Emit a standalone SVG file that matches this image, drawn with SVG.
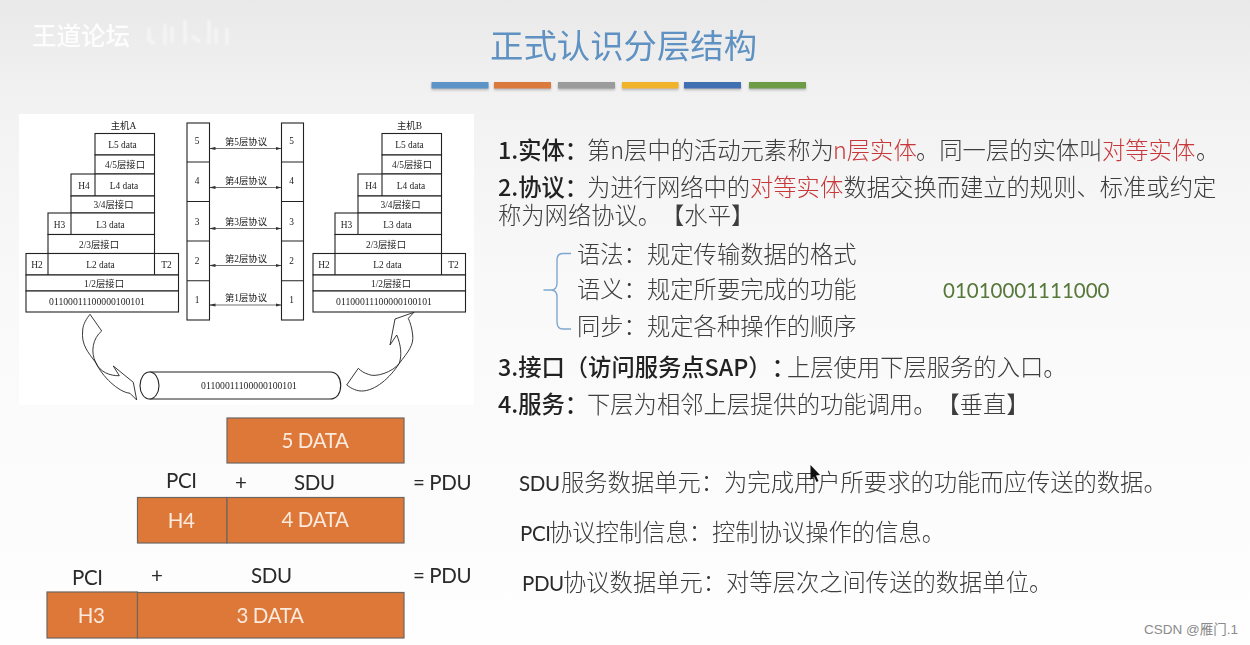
<svg xmlns="http://www.w3.org/2000/svg" width="1250" height="645" viewBox="0 0 1250 645">
<style>
.cn{font-family:"Noto Sans CJK SC","Liberation Sans",sans-serif;font-size:23.3px;fill:#3c3c3c;font-weight:300;text-spacing-trim:space-all}
.b{font-weight:500;fill:#222}
.r{fill:#c8383a}
.lat{font-family:"Lato","Noto Sans CJK SC",sans-serif;font-size:20.5px;letter-spacing:-.4px;fill:#2a2a2a}
.wh{font-family:"Lato",sans-serif;font-size:20.5px;letter-spacing:-.4px;fill:#fbeadd;text-anchor:middle}
.org{fill:#dd7837;stroke:#6f6660;stroke-width:1.2}
.s{font-family:"Liberation Serif","Noto Sans CJK SC",serif;font-size:9.4px;fill:#222;text-anchor:middle}
.bx{fill:#fff;stroke:#222;stroke-width:1.1}
.pn{stroke:#333;stroke-width:.7;fill:none;marker-start:url(#ah);marker-end:url(#ah)}
.ar{fill:#fff;stroke:#222;stroke-width:.9;stroke-linejoin:miter}
</style>
<defs>
<linearGradient id="bg" x1="0" y1="0" x2="0" y2="1"><stop offset="0" stop-color="#e9e9e9"/><stop offset=".16" stop-color="#f2f2f2"/><stop offset=".45" stop-color="#f9f9f9"/><stop offset="1" stop-color="#fefefe"/></linearGradient>
<filter id="soft" x="-5%" y="-5%" width="110%" height="110%"><feGaussianBlur stdDeviation=".45"/></filter>
<filter id="soft2" x="-5%" y="-20%" width="110%" height="140%"><feGaussianBlur stdDeviation=".3"/></filter>
<filter id="soft3" x="-5%" y="-20%" width="110%" height="140%"><feGaussianBlur stdDeviation=".8"/></filter>
<filter id="sh" x="-5%" y="-30%" width="110%" height="200%"><feDropShadow dx="0" dy="1.5" stdDeviation="1" flood-color="#888" flood-opacity=".6"/></filter>
<marker id="ah" markerWidth="6" markerHeight="4" refX="5.5" refY="2" orient="auto-start-reverse" markerUnits="userSpaceOnUse"><path d="M0 0.4L6 2L0 3.6z" fill="#333"/></marker>
<g id="host">
<rect class="bx" x="95" y="133.5" width="59.5" height="21.5"/>
<rect class="bx" x="95" y="155" width="59.5" height="19"/>
<rect class="bx" x="71" y="174" width="83.5" height="22"/>
<path class="bx" d="M95 174V196"/>
<rect class="bx" x="71" y="196" width="83.5" height="17"/>
<rect class="bx" x="48" y="213" width="106.5" height="21.5"/>
<path class="bx" d="M71 213V234.5"/>
<rect class="bx" x="48" y="234.5" width="106.5" height="19"/>
<rect class="bx" x="26" y="253.5" width="152.5" height="21.5"/>
<path class="bx" d="M48 253.5V275M154.5 253.5V275"/>
<rect class="bx" x="26" y="275" width="152.5" height="16"/>
<rect class="bx" x="26" y="291" width="152.5" height="21"/>
<text class="s" x="122.500" y="148">L5 data</text>
<text class="s" x="125" y="168">4/5层接口</text>
<text class="s" x="84" y="189">H4</text>
<text class="s" x="124" y="188.500">L4 data</text>
<text class="s" x="113.500" y="208">3/4层接口</text>
<text class="s" x="59.500" y="227.500">H3</text>
<text class="s" x="110.500" y="227.500">L3 data</text>
<text class="s" x="99" y="247.500">2/3层接口</text>
<text class="s" x="37" y="267.500">H2</text>
<text class="s" x="100.500" y="267.500">L2 data</text>
<text class="s" x="166.500" y="267.500">T2</text>
<text class="s" x="104" y="286.500">1/2层接口</text>
<text class="s" x="97" y="304.500" style="font-size:9.7px">01100011100000100101</text>
</g>
</defs>
<rect id="background" width="1250" height="645" fill="url(#bg)"/>
<g id="watermark">
<text x="32" y="45" filter="url(#soft2)" style="font-family:'Noto Sans CJK SC',sans-serif;font-size:24.500px;font-weight:500;fill:#fff;opacity:.9">王道论坛</text>
<path d="M149 27V40L155 44M165 24V45M172 26V43M185 20V44M192 36L200 42M209 20V44M216 28V44M227 28V45" fill="none" stroke="#fff" stroke-width="3" opacity=".5" filter="url(#soft3)"/>
</g>
<text id="title" x="490" y="58" filter="url(#soft2)" style="font-family:'Noto Sans CJK SC',sans-serif;font-size:33.400px;font-weight:400;fill:#5f92c2">正式认识分层结构</text>
<g id="title-bars" filter="url(#sh)">
<rect x="431.500" y="82" width="57" height="6.500" fill="#5b94c8"/>
<rect x="494" y="82" width="57" height="6.500" fill="#dc7a3c"/>
<rect x="558" y="82" width="57" height="6.500" fill="#9b9b9b"/>
<rect x="622" y="82" width="56.500" height="6.500" fill="#f0b32c"/>
<rect x="684" y="82" width="57" height="6.500" fill="#3f6fb2"/>
<rect x="749" y="82" width="57" height="6.500" fill="#6d9c45"/>
</g>
<g id="protocol-figure" filter="url(#soft)">
<rect x="19" y="114" width="455" height="291" fill="#fff"/>
<g id="host-a"><text class="s" x="123.500" y="129">主机A</text><use href="#host"/></g>
<g id="host-b"><text class="s" x="409.500" y="129">主机B</text><use href="#host" x="287"/></g>
<g id="stack-left">
<rect class="bx" x="187" y="123" width="22.500" height="197"/>
<path class="bx" d="M187 162H209.500M187 201.500H209.500M187 241H209.500M187 280.700H209.500"/>
<text class="s" x="197" y="144">5</text><text class="s" x="197" y="184">4</text><text class="s" x="197" y="224.500">3</text><text class="s" x="197" y="264">2</text><text class="s" x="197" y="303">1</text>
</g>
<g id="stack-right">
<rect class="bx" x="281.500" y="123" width="22" height="197"/>
<path class="bx" d="M281.500 162H303.500M281.500 201.500H303.500M281.500 241H303.500M281.500 280.700H303.500"/>
<text class="s" x="291.500" y="144">5</text><text class="s" x="291.500" y="184">4</text><text class="s" x="291.500" y="224.500">3</text><text class="s" x="291.500" y="264">2</text><text class="s" x="291.500" y="303">1</text>
</g>
<g id="connectors">
<path class="pn" d="M210 148.500H281"/><path class="pn" d="M210 187.500H281"/><path class="pn" d="M210 228.500H281"/><path class="pn" d="M210 265.500H281"/><path class="pn" d="M210 305H281"/>
<path class="ar" d="M90 314.300L101.700 331C93 338 90 352 96 363C102 376 118 392 130 393.300L136.700 400L133.300 382.300L113.300 366L119.300 375.700C110 376 100 372 96 363C88 352 81 345 82.700 330C83 324 87 318 90 314.300Z"/>
<path class="ar" d="M414 312.300L395 319L390 345L396.700 335C401 345 402 355 399.300 363.300C393 372 375 378 368.300 374.300C364 373 361 371 358.300 368.300L346.700 385C352 389 357 391 361.700 391C375 391 390 378 399.300 363.300C408 352 414 345 412.700 335C412 328 410 322 408.300 318.300Z"/>
</g>
<g id="pipe">
<path d="M149.500 372H330C337 372 340.700 378 340.700 385.500C340.700 393 337 399 330 399H149.500" class="bx"/>
<ellipse class="bx" cx="149.500" cy="385.500" rx="9.500" ry="13.500"/>
<text class="s" x="249" y="389" style="font-size:9.700px">01100011100000100101</text>
</g>
<text class="s" x="246" y="145">第5层协议</text>
<text class="s" x="246" y="183.500">第4层协议</text>
<text class="s" x="246" y="225">第3层协议</text>
<text class="s" x="246" y="261.500">第2层协议</text>
<text class="s" x="246" y="300.500">第1层协议</text>
</g>
<g id="definitions" filter="url(#soft2)">
<text class="cn" x="498" y="159"><tspan class="b">1.实体&#xFF1A;</tspan></text>
<text class="cn" x="587" y="159">第n层中的活动元素称为</text>
<text class="cn r" x="833" y="159">n层实体</text>
<text class="cn" x="916" y="159">。同一层的实体叫</text>
<text class="cn r" x="1102" y="159">对等实体</text>
<text class="cn" x="1196" y="159">。</text>
<text class="cn" x="498" y="196"><tspan class="b">2.协议&#xFF1A;</tspan></text>
<text class="cn" x="587" y="196">为进行网络中的</text>
<text class="cn r" x="750" y="196">对等实体</text>
<text class="cn" x="843.500" y="196">数据交换而建立的规则、标准或约定</text>
<text class="cn" x="498" y="224">称为网络协议。【水平】</text>
<text class="cn" x="577" y="263">语法&#xFF1A;</text><text class="cn" x="647" y="263">规定传输数据的格式</text>
<text class="cn" x="577" y="298">语义&#xFF1A;</text><text class="cn" x="647" y="298">规定所要完成的功能</text>
<text class="cn" x="577" y="335">同步&#xFF1A;</text><text class="cn" x="647" y="335">规定各种操作的顺序</text>
<text x="943" y="298" style="font-family:Lato,sans-serif;font-size:20.500px;fill:#56783a">01010001111000</text>
<text class="cn" x="498" y="376"><tspan class="b">3.接口&#xFF08;访问服务点SAP&#xFF09;&#xFF1A;</tspan></text>
<text class="cn" x="787" y="376">上层使用下层服务的入口。</text>
<text class="cn" x="498" y="413"><tspan class="b">4.服务&#xFF1A;</tspan></text>
<text class="cn" x="587" y="413">下层为相邻上层提供的功能调用。【垂直】</text>
<path id="brace" d="M571 253.500H563Q557 253.500 557 260V283Q557 290 551 290H543.500H551Q557 290 557 297V322Q557 329 563 329H571" fill="none" stroke="#7fa8cf" stroke-width="1.400"/>
</g>
<g id="pdu-5" filter="url(#soft2)">
<rect class="org" x="227" y="418" width="177" height="45"/>
<text class="wh" x="315" y="447.500">5 DATA</text>
</g>
<g id="pdu-4" filter="url(#soft2)">
<rect class="org" x="137.500" y="497.500" width="89.500" height="45.500"/>
<rect class="org" x="227" y="497.500" width="177" height="45.500"/>
<text class="wh" x="181" y="527.500">H4</text>
<text class="wh" x="315" y="527">4 DATA</text>
<text class="lat" x="166" y="488">PCI</text><text class="lat" x="235" y="490">+</text><text class="lat" x="294" y="490">SDU</text><text class="lat" x="413" y="490">= PDU</text>
</g>
<g id="pdu-3" filter="url(#soft2)">
<rect class="org" x="47" y="592" width="90.500" height="46"/>
<rect class="org" x="137.500" y="592.500" width="266.500" height="45.500"/>
<text class="wh" x="91" y="622.500">H3</text>
<text class="wh" x="270" y="622.500">3 DATA</text>
<text class="lat" x="72" y="585">PCI</text><text class="lat" x="151" y="583">+</text><text class="lat" x="251" y="583">SDU</text><text class="lat" x="413" y="583">= PDU</text>
</g>
<g id="glossary" filter="url(#soft2)">
<text class="lat" x="519" y="491">SDU</text><text class="cn" x="561" y="491">服务数据单元&#xFF1A;为完成用户所要求的功能而应传送的数据。</text>
<text class="lat" x="520" y="541">PCI</text><text class="cn" x="549" y="541">协议控制信息&#xFF1A;控制协议操作的信息。</text>
<text class="lat" x="522" y="591">PDU</text><text class="cn" x="563" y="591">协议数据单元&#xFF1A;对等层次之间传送的数据单位。</text>
</g>
<path id="cursor" d="M810.500 465V480L814 476.500L816.500 482L818.500 481L816 475.500L820 475Z" fill="#111"/>
<text id="credit" x="1144" y="634" style="font-family:'Liberation Sans','Noto Sans CJK SC',sans-serif;font-size:13.500px;fill:#8a8a8a">CSDN @雁门.1</text>
</svg>
